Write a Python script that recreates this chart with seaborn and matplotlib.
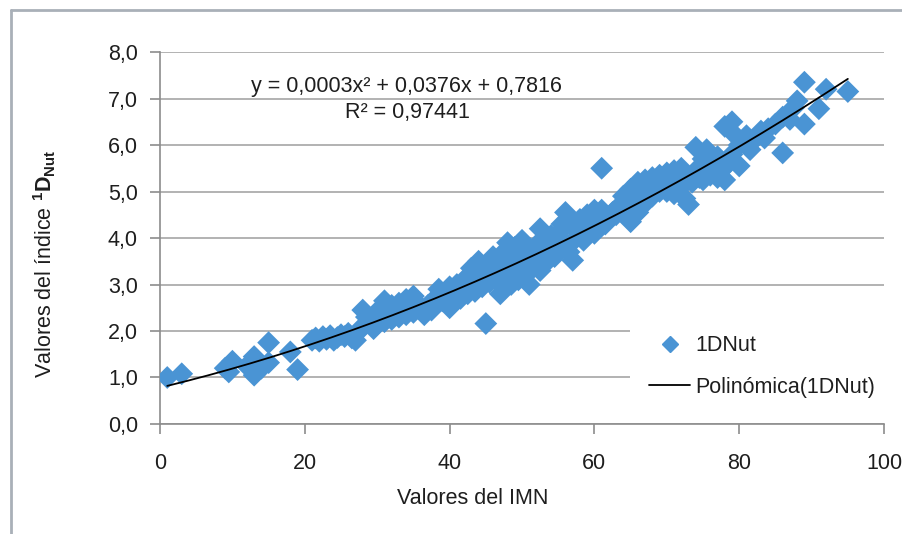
import numpy as np
import seaborn as sns
import matplotlib.pyplot as plt
from matplotlib.lines import Line2D
from matplotlib.ticker import FuncFormatter

# IMN values (x) and 1DNut index values (y), grouped by IMN range
imn_values = [
    1, 3, 9, 9.5, 10, 12, 13, 13, 14, 15, 15, 18, 19,
    21, 21.5, 22, 22.5, 23, 23.5, 24, 24.5, 25, 25.5, 26, 26.5, 27, 27.5, 28, 28, 28.5, 29, 29.5, 30, 30,
    30.5, 31, 31, 31.5, 32, 32, 32.5, 33, 33, 33.5, 34, 34, 34.5, 35, 35, 35.5, 36, 36.5, 37, 37.5, 38, 38.5, 39, 39.5, 40, 40,
    40.5, 41, 41, 41.5, 42, 42, 42.5, 43, 43, 43.5, 44, 44, 44.5, 45, 45, 45.5, 45.5, 46, 46, 46.5, 47, 47, 47, 47.5, 48, 48, 48.5, 48.5, 49, 49, 49.5, 50, 50, 50,
    50.5, 51, 51, 51.5, 52, 52, 52.5, 52.5, 53, 53, 53.5, 54, 54, 54.5, 55, 55, 55.5, 56, 56, 56.5, 57, 57, 57.5, 58, 58, 58.5, 59, 59, 59.5, 60, 60,
    60.5, 61, 61, 61.5, 62, 62.5, 63, 63.5, 64, 64, 64.5, 65, 65, 65.5, 66, 66, 66.5, 67, 67, 67.5, 68, 68, 68.5, 69, 69, 69.5, 70, 70,
    70.5, 71, 71, 71.5, 72, 72, 72.5, 73, 73, 73.5, 74, 74, 74.5, 75, 75, 75.5, 76, 76, 76.5, 77, 77, 77.5, 78, 78, 78.5, 79, 79, 79.5, 80, 80,
    81, 81.5, 82, 83, 83.5, 84, 85, 86, 86, 87, 87.5, 88, 89, 89, 91, 92, 95,
]
dnut_values = [
    1.0, 1.08, 1.2, 1.12, 1.35, 1.25, 1.45, 1.05, 1.2, 1.75, 1.32, 1.55, 1.17,
    1.8, 1.85, 1.78, 1.88, 1.82, 1.9, 1.8, 1.86, 1.92, 1.88, 1.95, 1.85, 1.8, 2.0, 2.45, 2.1, 2.3, 2.2, 2.05, 2.15, 2.35,
    2.5, 2.65, 2.2, 2.4, 2.55, 2.25, 2.45, 2.6, 2.3, 2.5, 2.68, 2.35, 2.55, 2.75, 2.4, 2.6, 2.5, 2.35, 2.55, 2.45, 2.7, 2.9, 2.65, 2.8, 2.5, 2.95,
    2.75, 2.85, 3.0, 2.7, 2.95, 3.1, 2.8, 3.0, 3.35, 2.85, 3.2, 3.5, 2.95, 3.3, 2.16, 3.45, 3.05, 3.6, 3.15, 3.3, 3.0, 3.45, 2.8, 3.7, 3.9, 3.25, 3.55, 3.0, 3.8, 3.35, 3.1, 3.6, 3.95, 3.25,
    3.45, 3.7, 3.0, 3.35, 3.85, 3.55, 4.2, 3.3, 3.6, 3.95, 3.5, 4.05, 3.75, 3.6, 4.1, 3.85, 4.3, 3.9, 4.55, 3.7, 3.52, 4.25, 4.0, 4.4, 4.15, 3.95, 4.5, 4.2, 4.35, 4.6, 4.1,
    4.4, 5.5, 4.6, 4.3, 4.45, 4.55, 4.5, 4.7, 4.65, 4.9, 4.45, 5.05, 4.35, 4.8, 5.2, 4.55, 5.0, 5.25, 4.75, 5.1, 5.3, 4.9, 5.15, 5.35, 5.0, 5.2, 5.4, 5.0,
    5.25, 5.45, 4.95, 5.3, 5.5, 5.1, 4.85, 4.72, 5.3, 5.2, 5.95, 5.45, 5.3, 5.7, 5.25, 5.9, 5.5, 5.35, 5.6, 5.3, 5.75, 5.45, 6.4, 5.25, 5.6, 6.5, 5.8, 6.2, 5.55, 6.0,
    6.2, 5.9, 6.1, 6.3, 6.15, 6.35, 6.45, 5.83, 6.6, 6.55, 6.8, 6.95, 7.35, 6.45, 6.78, 7.2, 7.15,
]

# Second-order polynomial trend (highest power first) and its IMN span
trend_coefs = [0.00034, 0.0376, 0.7816]
trend_span = [1, 95]

equation_label = "y = 0,0003x² + 0,0376x + 0,7816"
r2_label = "R² = 0,97441"
series_label = "1DNut"
trend_label = "Polinómica(1DNut)"
x_ticks = [0, 20, 40, 60, 80, 100]
y_ticks = [0, 1, 2, 3, 4, 5, 6, 7, 8]

point_color = "#4A94D4"
grid_color = "#A6A6A6"
axis_color = "#8C8C8C"
text_color = "#1E1E1E"
font_size = 15.5

sns.set_theme(style="white")
plt.rcParams["font.family"] = ["Liberation Sans", "DejaVu Sans"]
plt.rcParams["mathtext.fontset"] = "custom"
plt.rcParams["mathtext.rm"] = "Liberation Sans"
plt.rcParams["mathtext.it"] = "Liberation Sans:italic"
plt.rcParams["mathtext.bf"] = "Liberation Sans:bold"

fig = plt.figure(figsize=(9.03, 5.34), dpi=100)
ax = fig.add_axes([0.1772, 0.206, 0.8018, 0.6966])

sns.scatterplot(x=imn_values, y=dnut_values, marker="D", s=135, color=point_color,
                edgecolor="none", linewidth=0, ax=ax, zorder=3)

trend_x = np.linspace(trend_span[0], trend_span[1], 200)
trend_y = np.polyval(trend_coefs, trend_x)
sns.lineplot(x=trend_x, y=trend_y, color="black", linewidth=1.3, ax=ax, zorder=4)

ax.set_xlim(0, 100)
ax.set_ylim(0, 8)
ax.set_xticks(x_ticks)
ax.set_yticks(y_ticks)
ax.yaxis.set_major_formatter(FuncFormatter(lambda v, _: f"{v:.1f}".replace(".", ",")))
ax.xaxis.set_major_formatter(FuncFormatter(lambda v, _: f"{v:.0f}"))

ax.set_axisbelow(True)
ax.yaxis.grid(True, color=grid_color, linewidth=1.2)
ax.xaxis.grid(False)
for side in ("top", "right"):
    ax.spines[side].set_visible(False)
for side in ("left", "bottom"):
    ax.spines[side].set_color(axis_color)
    ax.spines[side].set_linewidth(1.2)

ax.tick_params(axis="both", which="major", bottom=True, left=True, direction="out",
               length=7, width=1.2, color=axis_color, labelsize=font_size,
               labelcolor=text_color)
ax.tick_params(axis="y", pad=9)
ax.tick_params(axis="x", pad=14)

ax.set_xlabel("Valores del IMN", fontsize=font_size, color=text_color, va="center")
ax.xaxis.set_label_coords(0.432, -0.2)
ax.set_ylabel(r"Valores del índice $\mathbf{^{1}D_{Nut}}$", fontsize=font_size,
              color=text_color, va="center")
ax.yaxis.set_label_coords(-0.159, 0.43)

ax.text(34.1, 7.25, equation_label, ha="center", va="center", fontsize=font_size,
        color=text_color)
ax.text(34.2, 6.69, r2_label, ha="center", va="center", fontsize=font_size,
        color=text_color)

handles = [
    Line2D([], [], marker="D", linestyle="none", color=point_color, markersize=8),
    Line2D([], [], color="black", linewidth=1.3),
]
leg = ax.legend(handles, [series_label, trend_label], loc="center left",
                bbox_to_anchor=(0.649, 0.155), frameon=True, facecolor="white",
                edgecolor="none", framealpha=1, fontsize=font_size,
                handlelength=1.9, handletextpad=0.25, labelspacing=0.95,
                borderpad=0.9, borderaxespad=0)
for t in leg.get_texts():
    t.set_color(text_color)

# Outer chart frame (top and left edges)
frame_kw = dict(color="#A9B0B8", linewidth=2, transform=fig.transFigure)
fig.add_artist(Line2D([0.0122, 1.0], [0.981, 0.981], **frame_kw))
fig.add_artist(Line2D([0.0122, 0.0122], [0.0, 0.981], **frame_kw))

fig.savefig("out.png", dpi=100)
